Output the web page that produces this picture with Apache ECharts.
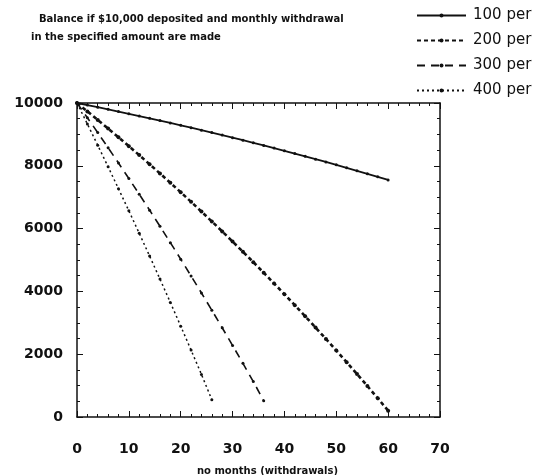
<!DOCTYPE html>
<html>
<head>
<meta charset="utf-8">
<script src="https://cdn.jsdelivr.net/npm/echarts@6/dist/echarts.min.js"></script>
<style>
  html, body { margin: 0; padding: 0; background: #fff; }
  #chart { width: 535px; height: 475px; }
</style>
</head>
<body>
<div id="chart"></div>
<script>
// months (withdrawals), read every 2 months
const months = [0, 2, 4, 6, 8, 10, 12, 14, 16, 18, 20, 22, 24, 26, 28, 30,
  32, 34, 36, 38, 40, 42, 44, 46, 48, 50, 52, 54, 56, 58, 60]
const bal100 = [10000, 9933, 9865, 9797, 9727, 9656, 9585, 9513, 9439, 9365, 9289,
  9213, 9136, 9057, 8978, 8897, 8815, 8733, 8649, 8564, 8478, 8390, 8302, 8212,
  8122, 8030, 7936, 7842, 7746, 7649, 7551]
const bal200 = [10000, 9732, 9461, 9187, 8908, 8626, 8340, 8050, 7757, 7459, 7158,
  6852, 6542, 6228, 5910, 5588, 5262, 4931, 4595, 4255, 3911, 3562, 3208, 2850,
  2487, 2119, 1746, 1368, 985, 596, 203]
const bal300 = [10000, 9532, 9057, 8576, 8089, 7595, 7095, 6588, 6074, 5553, 5026,
  4491, 3949, 3400, 2843, 2279, 1708, 1129, 520]
const bal400 = [10000, 9331, 8653, 7966, 7270, 6565, 5850, 5126, 4392, 3648, 2894,
  2130, 1356, 550]
const seriesNames = ['100 per', '200 per', '300 per', '400 per']
const xTicks = [0, 10, 20, 30, 40, 50, 60, 70]
const yTicks = [0, 2000, 4000, 6000, 8000, 10000]

const pairs = (vals) => vals.map((v, i) => [months[i], v])

let chart = echarts.init(document.getElementById('chart'))

const labelFont = { fontFamily: 'DejaVu Sans', fontWeight: 'bold', fontSize: 14, color: '#111' }
const axisLine = { show: true, onZero: false, lineStyle: { color: '#111', width: 1.5 } }
const titleFont = { fontFamily: 'DejaVu Sans', fontWeight: 'bold', fontSize: 10, color: '#111' }
const tick = { show: true, inside: true, length: 6, lineStyle: { color: '#111' } }
const minor = (n) => ({ show: true, splitNumber: n, length: 3, lineStyle: { color: '#111' } })

let option = {
  backgroundColor: '#fff',
  animation: false,
  title: [{
    text: 'Balance if $10,000 deposited and monthly withdrawal',
    left: 39,
    top: 14,
    padding: 0,
    textStyle: titleFont
  }, {
    text: 'in the specified amount are made',
    left: 31,
    top: 32,
    padding: 0,
    textStyle: titleFont
  }],
  legend: {
    orient: 'vertical',
    left: 411,
    top: 3,
    itemWidth: 49,
    itemHeight: 5,
    itemGap: 10,
    data: seriesNames,
    textStyle: { fontFamily: 'DejaVu Sans', fontSize: 15, color: '#111', padding: [0, 0, 0, 2] }
  },
  grid: { left: 77, right: 95, top: 103, bottom: 58, outerBoundsMode: 'none' },
  xAxis: [{
    type: 'value',
    min: 0,
    max: 70,
    interval: 10,
    name: 'no months (withdrawals)',
    nameLocation: 'middle',
    nameGap: 49,
    nameTextStyle: { fontFamily: 'DejaVu Sans', fontWeight: 'bold', fontSize: 10, color: '#111', padding: [0, 0, 0, 18] },
    axisLine: axisLine,
    axisTick: tick,
    minorTick: minor(5),
    axisLabel: Object.assign({ margin: 25, formatter: (v) => xTicks.includes(v) ? String(v) : '' }, labelFont),
    splitLine: { show: false }
  }, {
    type: 'value',
    position: 'top',
    min: 0,
    max: 70,
    interval: 10,
    axisLine: axisLine,
    axisTick: tick,
    minorTick: minor(5),
    axisLabel: { show: false },
    splitLine: { show: false }
  }],
  yAxis: [{
    type: 'value',
    min: 0,
    max: 10000,
    interval: 2000,
    axisLine: axisLine,
    axisTick: tick,
    minorTick: minor(4),
    axisLabel: Object.assign({ margin: 14, formatter: (v) => yTicks.includes(v) ? String(v) : '' }, labelFont),
    splitLine: { show: false }
  }, {
    type: 'value',
    position: 'right',
    min: 0,
    max: 10000,
    interval: 2000,
    axisLine: axisLine,
    axisTick: tick,
    minorTick: minor(4),
    axisLabel: { show: false },
    splitLine: { show: false }
  }],
  series: [
    {
      name: '100 per',
      type: 'line',
      data: pairs(bal100),
      symbol: 'circle',
      symbolSize: 3,
      itemStyle: { color: '#111' },
      lineStyle: { color: '#111', width: 1.8, type: 'solid' }
    },
    {
      name: '200 per',
      type: 'line',
      data: pairs(bal200),
      symbol: 'circle',
      symbolSize: 4,
      itemStyle: { color: '#111' },
      lineStyle: { color: '#111', width: 2.6, type: [4, 3] }
    },
    {
      name: '300 per',
      type: 'line',
      data: pairs(bal300),
      symbol: 'circle',
      symbolSize: 3,
      itemStyle: { color: '#111' },
      lineStyle: { color: '#111', width: 1.6, type: [8, 6] }
    },
    {
      name: '400 per',
      type: 'line',
      data: pairs(bal400),
      symbol: 'circle',
      symbolSize: 3,
      itemStyle: { color: '#111' },
      lineStyle: { color: '#111', width: 1.5, type: [2, 3] }
    }
  ]
}
chart.setOption(option)
</script>
</body>
</html>
